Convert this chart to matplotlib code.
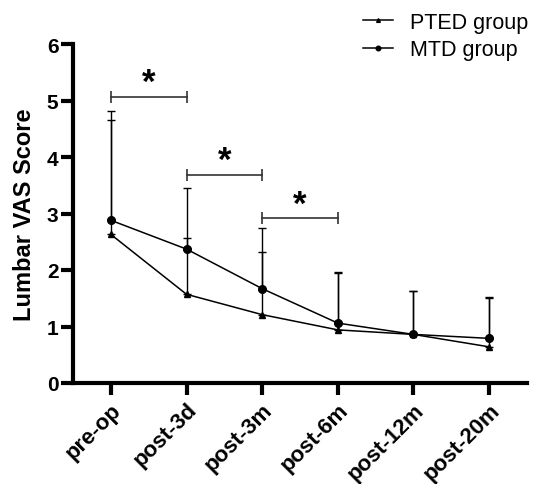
import matplotlib
matplotlib.use("Agg")
import matplotlib.pyplot as plt
import numpy as np

categories = ['pre-op', 'post-3d', 'post-3m', 'post-6m', 'post-12m', 'post-20m']
pted_mean = [2.63, 1.57, 1.21, 0.94, 0.86, 0.64]
pted_upper = [4.66, 2.57, 2.32, 1.95, 1.62, 1.50]
mtd_mean = [2.88, 2.37, 1.67, 1.06, 0.86, 0.79]
mtd_upper = [4.82, 3.46, 2.74, 1.96, 1.63, 1.53]
sig_pairs = [(0, 1), (1, 2), (2, 3)]
sig_y = [5.07, 3.69, 2.92]
y_ticks = [0, 1, 2, 3, 4, 5, 6]

plt.rcParams['font.family'] = ['Liberation Sans', 'DejaVu Sans']

fig = plt.figure(figsize=(5.46, 4.85), dpi=100)
ax = fig.add_axes([73/546, 1-384/485, (527-73)/546, (384-45)/485])

x = np.arange(len(categories))
pm = np.array(pted_mean); pu = np.array(pted_upper)
mm = np.array(mtd_mean); mu = np.array(mtd_upper)

ax.errorbar(x, pm, yerr=[np.zeros_like(pm), pu - pm], fmt='none', ecolor='black',
            elinewidth=1.0, capsize=3, capthick=1.0, zorder=2)
ax.errorbar(x, mm, yerr=[np.zeros_like(mm), mu - mm], fmt='none', ecolor='black',
            elinewidth=1.0, capsize=3, capthick=1.0, zorder=2)
l1, = ax.plot(x, pm, color='black', lw=1.1, marker='^', markersize=4.5, zorder=3, label='PTED group')
l2, = ax.plot(x, mm, color='black', lw=1.1, marker='o', markersize=5.5, zorder=3, label='MTD group')

for (a, b), yv in zip(sig_pairs, sig_y):
    ax.plot([a, b], [yv, yv], color='#333333', lw=1.2, marker='|', markersize=8,
            markeredgewidth=1.2, zorder=2)
    ax.text((a + b) / 2, yv + 0.25, '*', ha='center', va='center',
            fontsize=25, fontweight='bold')

ax.set_xlim(-0.5, 5.5)
ax.set_ylim(0, 6)
ax.set_yticks(y_ticks)
ax.set_xticks(x)
ax.set_xticklabels(categories, rotation=45, ha='right', rotation_mode='anchor',
                   fontsize=16, fontweight='bold')
ax.set_yticklabels([str(t) for t in y_ticks], fontsize=15, fontweight='bold')
ax.tick_params(axis='both', length=8.5, width=3, direction='out', pad=2)
ax.tick_params(axis='x', pad=3)
for s in ['top', 'right']:
    ax.spines[s].set_visible(False)
for s in ['left', 'bottom']:
    ax.spines[s].set_linewidth(3)
ax.set_ylabel('Lumbar VAS Score', fontsize=17, fontweight='bold', labelpad=8)

fig.legend(handles=[l1, l2], loc='upper left', bbox_to_anchor=(350/546, 1.0),
           frameon=False, fontsize=15.5, handlelength=1.4, handletextpad=0.8,
           labelspacing=0.3, borderaxespad=0.2, markerscale=0.6)

fig.savefig('out.png', dpi=100)
